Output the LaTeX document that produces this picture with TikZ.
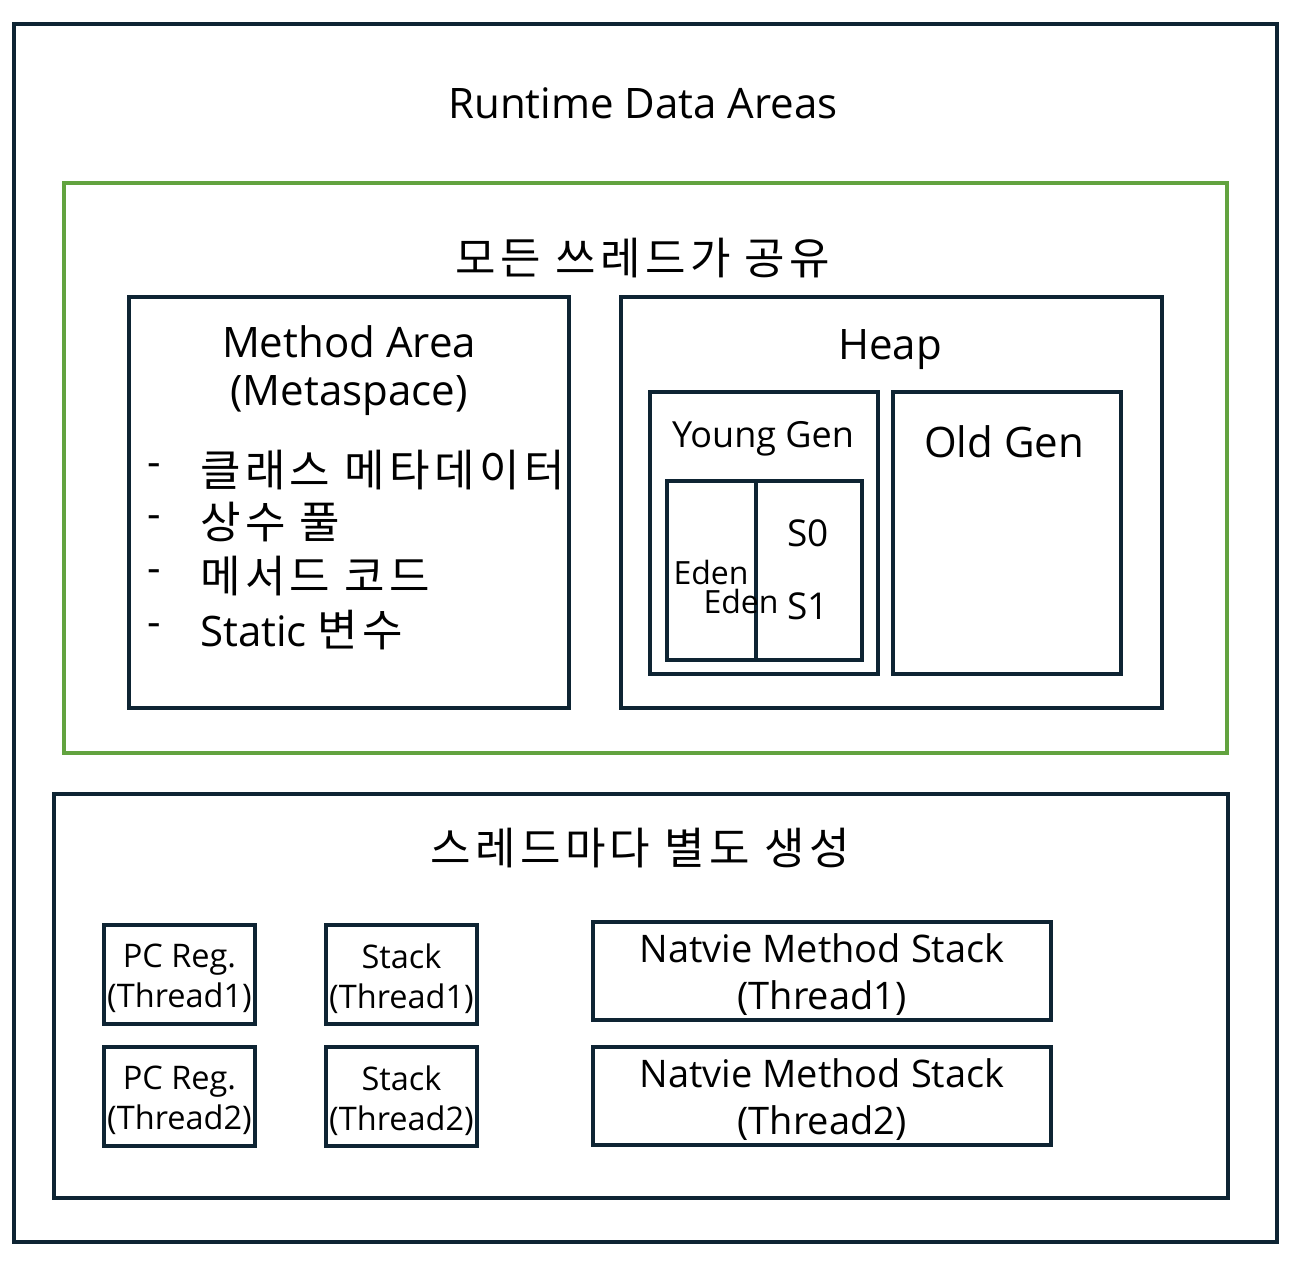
\documentclass[tikz,border=0pt]{standalone}
\usepackage{fontspec}
\setmainfont{Open Sans}
\newfontfamily\krfont[LetterSpace=10]{Noto Sans CJK KR}
\newcommand{\kr}[1]{{\krfont\fontsize{44}{44}\selectfont #1}}
\definecolor{navy}{HTML}{0E2433}
\definecolor{lgreen}{HTML}{62A33F}
\newcommand{\fs}[1]{\fontsize{#1}{#1}\selectfont}
\begin{document}
\begin{tikzpicture}[x=1pt,y=-1pt,
  box/.style={draw=navy,line width=3.5pt,inner sep=0pt,outer sep=0pt,anchor=north west},
  gbox/.style={draw=lgreen,line width=3.5pt,inner sep=0pt,outer sep=0pt,anchor=north west},
  txt/.style={inner sep=0pt,anchor=center,align=center},
  big/.style={font=\fs{42}},
  mid/.style={font=\fs{32.5}},
  sml/.style={font=\fs{32}}]
\useasboundingbox[fill=white] (0,0) rectangle (1310,1264);
% outer
\node[box,minimum width=1263pt,minimum height=1218pt] (outer) at (14,24) {};
\node[txt,big] (title) at (643,103) {Runtime Data Areas};
% shared
\node[gbox,minimum width=1163pt,minimum height=570pt] (shared) at (64,183) {};
\node[txt] (sharedt) at (643,258) {\kr{모든 쓰레드가 공유}};
% method area
\node[box,minimum width=440pt,minimum height=411pt] (method) at (129,297) {};
\node[txt,big] (methodt) at (349,342) {Method Area};
\node[txt,big] (methodt2) at (349,396) {(Metaspace)};
\node[txt,big,anchor=west] (d1) at (147,470) {-};
\node[txt,big,anchor=west] (d2) at (147,522) {-};
\node[txt,big,anchor=west] (d3) at (147,576) {-};
\node[txt,big,anchor=west] (d4) at (147,630) {-};
\node[txt,anchor=west] (m1) at (200,470) {\kr{클래스 메타데이터}};
\node[txt,anchor=west] (m2) at (200,522) {\kr{상수 풀}};
\node[txt,anchor=west] (m3) at (200,576) {\kr{메서드 코드}};
\node[txt,big,anchor=west] (m4) at (200,630) {Static \kr{변수}};
% heap
\node[box,minimum width=541pt,minimum height=411pt] (heap) at (621,297) {};
\node[txt,big] (heapt) at (890,350) {Heap};
\node[box,minimum width=228pt,minimum height=282pt] (young) at (650,392) {};
\node[txt,font=\fs{36}] (youngt) at (763,439) {Young Gen};
\node[box,minimum width=195pt,minimum height=179pt] (ygin) at (667,481) {};
\draw[navy,line width=3.5pt] (ygin.north west) ++(89,0) coordinate (dv1) -- (dv1 |- ygin.south) coordinate (dv2);
\node[txt,sml] (eden1) at (711,572) {Eden};
\node[txt,sml] (eden2) at (741,601) {Eden};
\node[txt,font=\fs{37}] (s0) at (808,533) {S0};
\node[txt,font=\fs{37}] (s1) at (808,606) {S1};
\node[box,minimum width=228pt,minimum height=282pt] (old) at (893,392) {};
\node[txt,big] (oldt) at (1004,442) {Old Gen};
% per thread
\node[box,minimum width=1174pt,minimum height=404pt] (thr) at (54,794) {};
\node[txt] (thrt) at (640,848) {\kr{스레드마다 별도 생성}};
\node[box,minimum width=151pt,minimum height=99pt] (pc1) at (104,925) {};
\node[txt,mid] (pc1t) at ([yshift=-4pt]pc1.center) {PC Reg.\\[8pt](Thread1)};
\node[box,minimum width=151pt,minimum height=99pt] (pc2) at (104,1047) {};
\node[txt,mid] (pc2t) at ([yshift=-4pt]pc2.center) {PC Reg.\\[8pt](Thread2)};
\node[box,minimum width=151pt,minimum height=99pt] (st1) at (326,925) {};
\node[txt,mid] (st1t) at ([yshift=-4pt]st1.center) {Stack\\[8pt](Thread1)};
\node[box,minimum width=151pt,minimum height=99pt] (st2) at (326,1047) {};
\node[txt,mid] (st2t) at ([yshift=-4pt]st2.center) {Stack\\[8pt](Thread2)};
\node[box,minimum width=458pt,minimum height=98pt] (nm1) at (593,922) {};
\node[txt,font=\fs{38}] (nm1t) at ([yshift=-4pt]nm1.center) {Natvie Method Stack\\[9pt](Thread1)};
\node[box,minimum width=458pt,minimum height=98pt] (nm2) at (593,1047) {};
\node[txt,font=\fs{38}] (nm2t) at ([yshift=-4pt]nm2.center) {Natvie Method Stack\\[9pt](Thread2)};
\end{tikzpicture}
\end{document}
